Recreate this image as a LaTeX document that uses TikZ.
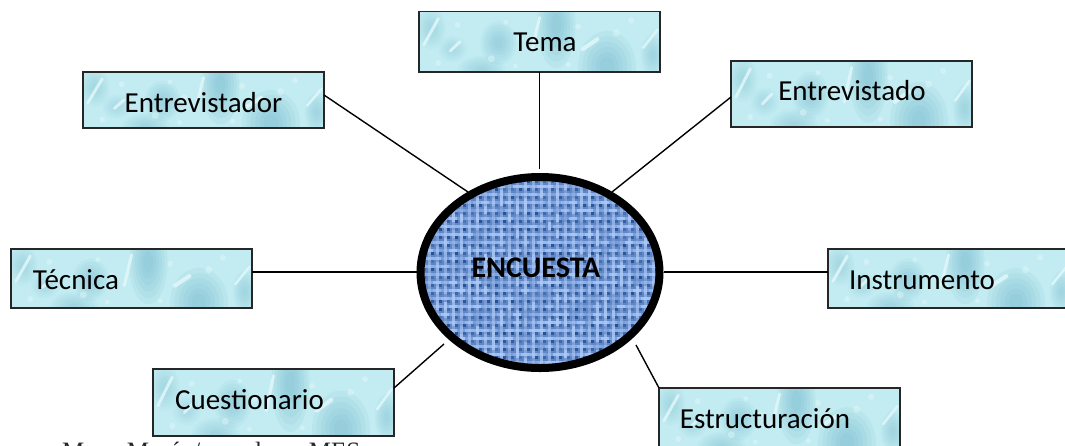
\documentclass[tikz,border=0pt]{standalone}
\usepackage{fontspec}
\setmainfont{Carlito}
\newfontfamily\capfont{Liberation Serif}
\usetikzlibrary{shapes.geometric}
\definecolor{aquabase}{HTML}{C2ECF2}
\definecolor{aquashade}{HTML}{62AEC4}
\definecolor{aqualight}{HTML}{E4F8FA}
\definecolor{clothbase}{HTML}{5F86C6}
\definecolor{clothdark}{HTML}{1F4A8C}
\definecolor{clothlight}{HTML}{AFCBF7}
\tikzset{
  x=1pt,y=-1pt,
  boxnode/.style={draw=black!85,line width=1.5pt,inner sep=0pt,outer sep=0pt,anchor=north west,minimum width=241pt},
  boxlabel/.style={font=\fontsize{29}{32}\selectfont,anchor=base,inner sep=0pt,text=black},
  link/.style={draw=black,line width=1.4pt},
  hublabel/.style={font=\bfseries\fontsize{30}{32}\selectfont,anchor=base,inner sep=0pt,text=black},
  hubnode/.style={ellipse,draw=black,line width=8pt,inner sep=0pt,outer sep=3pt,minimum width=239pt,minimum height=191pt},
  streak/.style={draw=aqualight,line cap=round,opacity=.8}
}
% soft blob: #1 x, #2 y, #3 x radius, #4 y radius, #5 opacity of each layer
\newcommand{\softblob}[5]{%
  \foreach \k in {1,.85,.7,.55,.4,.25}{
    \fill[aquashade,opacity=#5] (#1,#2) ellipse [x radius=\k*#3, y radius=\k*#4];
  }}
% water texture inside a box: #1 = west x, #2 = north y, #3 = width, #4 = height
\newcommand{\waterfx}[4]{%
  \begin{scope}
    \clip (#1,#2) rectangle ++(#3,#4);
    \fill[aquabase] (#1,#2) rectangle ++(#3,#4);
    \softblob{#1+.57*#3}{#2+.22*#4}{.08*#3}{.72*#4}{.09}
    \softblob{#1+.78*#3}{#2+.90*#4}{.12*#3}{.58*#4}{.09}
    \softblob{#1+.33*#3}{#2+.52*#4}{.075*#3}{.36*#4}{.07}
    \softblob{#1+.05*#3}{#2+.28*#4}{.06*#3}{.34*#4}{.05}
    \softblob{#1+.26*#3}{#2+.98*#4}{.10*#3}{.25*#4}{.06}
    \softblob{#1+.97*#3}{#2+.72*#4}{.05*#3}{.35*#4}{.06}
    \softblob{#1+.14*#3}{#2+.62*#4}{.06*#3}{.22*#4}{.04}
    \draw[streak,line width=3pt] ({#1+.47*#3},{#2+.62*#4}) -- ({#1+.50*#3},{#2+.10*#4});
    \draw[streak,line width=4pt] ({#1+.68*#3},{#2+.62*#4}) -- ({#1+.74*#3},{#2+.46*#4});
    \draw[streak,line width=3pt] ({#1+.13*#3},{#2+.65*#4}) -- ({#1+.17*#3},{#2+.50*#4});
    \draw[streak,line width=3pt] ({#1+.02*#3},{#2+.55*#4}) -- ({#1+.08*#3},{#2+.12*#4});
    \draw[streak,line width=2.5pt] ({#1+.93*#3},{#2+.60*#4}) -- ({#1+.99*#3},{#2+.30*#4});
    \foreach \u/\v/\s in {.16/.22/3,.36/.18/2.5,.42/.45/3,.30/.78/3.5,.08/.85/3,.66/.25/3,.82/.35/3.5,.88/.15/3,.40/.90/2.5,.62/.88/2.5}{
      \fill[aqualight,opacity=.45] ({#1+\u*#3},{#2+\v*#4}) circle [radius=\s];
    }
  \end{scope}}
\begin{document}
\begin{tikzpicture}
\useasboundingbox (0,0) rectangle (1065,445);
\fill[white] (0,0) rectangle (1065,445);

% box textures
\waterfx{419}{11.5}{241}{60.5}
\waterfx{83}{72}{241}{56}
\waterfx{731}{61}{241}{66}
\waterfx{11}{249}{241}{59}
\waterfx{828}{249}{241}{59}
\waterfx{153}{369}{241}{67}
\waterfx{659}{388}{241}{60}

% boxes
\node[boxnode,minimum height=60.5pt] (tema) at (419,11.5) {};
\node[boxnode,minimum height=56pt] (entrevistador) at (83,72) {};
\node[boxnode,minimum height=66pt] (entrevistado) at (731,61) {};
\node[boxnode,minimum height=59pt] (tecnica) at (11,249) {};
\node[boxnode,minimum height=59pt] (instrumento) at (828,249) {};
\node[boxnode,minimum height=67pt] (cuestionario) at (153,369) {};
\node[boxnode,minimum height=60pt] (estructuracion) at (659,388) {};

\node[boxlabel] (ltema) at (545,51) {Tema};
\node[boxlabel] (lentrevistador) at (203.5,112) {Entrevistador};
\node[boxlabel] (lentrevistado) at (852,100) {Entrevistado};
\node[boxlabel] (ltecnica) at (76,289) {Técnica};
\node[boxlabel] (linstrumento) at (922,289) {Instrumento};
\node[boxlabel] (lcuestionario) at (249.5,409) {Cuestionario};
\node[boxlabel] (lestructuracion) at (765,428) {Estructuración};

% hub texture: a coarse weave
\pgfmathsetseed{4217}
\begin{scope}
  \clip (540,272.5) ellipse [x radius=120, y radius=96];
  \fill[clothbase] (416,170) rectangle (664,375);
  \foreach \cx in {0,...,30}{
    \foreach \cy in {0,...,24}{
      \pgfmathsetmacro{\px}{417+\cx*8}
      \pgfmathsetmacro{\py}{174+\cy*8}
      \pgfmathsetmacro{\la}{.25+.65*rnd}
      \pgfmathsetmacro{\lb}{.25+.65*rnd}
      \pgfmathsetmacro{\da}{.25+.65*rnd}
      \fill[clothlight,opacity=\la] (\px,{\py+2.5}) rectangle ++(8,3);
      \fill[clothlight,opacity=\lb] ({\px+2.5},\py) rectangle ++(3,8);
      \fill[clothdark,opacity=\da] ({\px+5.5},{\py+5.5}) rectangle ++(3,3);
    }
  }
\end{scope}
\node[hubnode] (hub) at (540,272.5) {};
\node[hublabel] (lhub) at (536,277.5) {ENCUESTA};

% connectors
\coordinate (h1) at (539.5,169);
\coordinate (h2) at (468,192);
\coordinate (h3) at (612,192);
\coordinate (h4) at (417,272);
\coordinate (h5) at (664,272);
\coordinate (h6) at (444,344);
\coordinate (h7) at (636,345);
\coordinate (s2) at (324,95);
\coordinate (s3) at (731,97);
\coordinate (s6) at (394,388);
\draw[link] (tema.south -| h1) -- (h1);
\draw[link] (s2) -- (h2);
\draw[link] (s3) -- (h3);
\draw[link] (h4 -| tecnica.east) -- (h4);
\draw[link] (h5 -| instrumento.west) -- (h5);
\draw[link] (s6) -- (h6);
\draw[link] (estructuracion.north west) -- (h7);

\node[font=\capfont\fontsize{25}{28}\selectfont,anchor=base west,text=black!85,inner sep=0pt] (nota) at (62,459) {Mayo Morán/ angulo\hspace{28pt} MES};
\end{tikzpicture}
\end{document}
